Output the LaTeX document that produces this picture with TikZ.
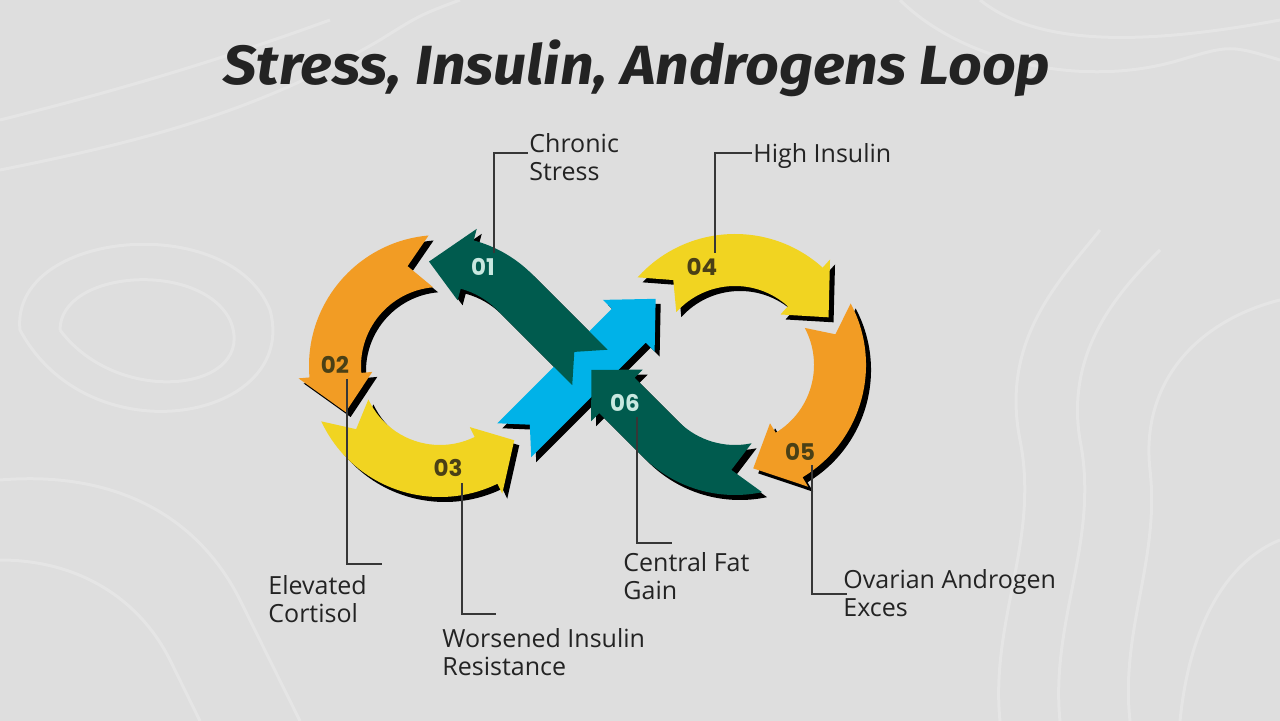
\documentclass[tikz,border=0pt]{standalone}
\usepackage{fontspec}
\newfontfamily\titlefont{Fira Sans}[FakeStretch=1.07]
\newfontfamily\labelfont{Open Sans}
\newfontfamily\numfont{Poppins}
\definecolor{bgc}{RGB}{222,222,222}
\definecolor{orangec}{RGB}{242,156,36}
\definecolor{yellowc}{RGB}{241,212,33}
\definecolor{greenc}{RGB}{0,91,78}
\definecolor{bluec}{RGB}{0,178,232}
\definecolor{numdark}{RGB}{74,64,22}
\definecolor{numlight}{RGB}{200,232,224}
\definecolor{textc}{RGB}{35,35,35}
\definecolor{linec}{RGB}{55,55,55}
\newcommand{\arcarrow}[4]{(#1:131) arc[start angle=#1, end angle=#2, radius=131] -- (#2:142) -- (#3:105) -- (#2:68) -- (#2:79) arc[start angle=#2, end angle=#1, radius=79] -- (#4:105) -- cycle}
\newcommand{\greenA}{(-75:130) arc[start angle=-75,end angle=-45,radius=130] -- (167.58,-16.26) -- (134.3,-14.1) -- (132.23,19.09) -- (-45:80) arc[start angle=-45,end angle=-75,radius=80] -- (-75:68) -- (-96:105) -- (-75:142) -- cycle}
\newcommand{\greenB}{(78:130) arc[start angle=78,end angle=135,radius=130] -- (-135.76,48.08) -- (-143.9,56.22) -- (-143.55,4.95) -- (-92.28,4.6) -- (-100.41,12.73) -- (135:80) arc[start angle=135,end angle=78,radius=80] -- (92:105) -- cycle}
\newcommand{\blueA}{(497.28,423.28) -- (611.83,308.73) -- (602.99,299.89) -- (655.67,298.83) -- (654.61,351.51) -- (645.77,342.67) -- (531.22,457.22) -- (529.81,424.69) -- cycle}
\tikzset{
  shadowf/.style={fill=black, shift={(5,5)}},
  lead/.style={draw=linec, line width=0.75pt},
  numdk/.style={font=\numfont\bfseries\fontsize{11.5}{13}\selectfont, text=numdark, inner sep=0},
  numlt/.style={font=\numfont\bfseries\fontsize{11.5}{13}\selectfont, text=numlight, inner sep=0},
  labtxt/.style={font=\labelfont\fontsize{12.5}{14}\selectfont, text=textc, align=left, anchor=north west, inner sep=0},
  texture/.style={draw=white, opacity=0.22, line width=1.5pt}
}
\begin{document}
\begin{tikzpicture}[x=0.5pt,y=-0.5pt]
\useasboundingbox (0,0) rectangle (1280,721);
\fill[bgc] (0,0) rectangle (1280,721);
% background texture
\draw[texture] (0,120) .. controls (120,90) and (220,60) .. (330,20);
\draw[texture] (0,170) .. controls (150,140) and (260,110) .. (380,40) .. controls (420,15) .. (460,0);
\draw[texture] (60,330) .. controls (60,270) and (200,260) .. (230,320) .. controls (260,390) and (120,410) .. (60,330);
\draw[texture] (20,330) .. controls (10,230) and (230,210) .. (270,310) .. controls (300,420) and (90,460) .. (20,330);
\draw[texture] (0,480) .. controls (120,470) and (200,520) .. (240,600) .. controls (270,660) .. (300,721);
\draw[texture] (0,560) .. controls (80,560) and (140,600) .. (170,660) .. controls (185,690) .. (200,721);
\draw[texture] (1000,721) .. controls (990,620) and (1040,540) .. (1020,440) .. controls (1000,340) and (1060,280) .. (1100,230);
\draw[texture] (1060,721) .. controls (1050,620) and (1100,540) .. (1080,440) .. controls (1065,350) and (1120,290) .. (1160,250);
\draw[texture] (1130,721) .. controls (1120,630) and (1160,560) .. (1150,470) .. controls (1140,380) and (1200,320) .. (1280,300);
\draw[texture] (900,0) .. controls (960,60) and (1080,90) .. (1180,60) .. controls (1230,45) .. (1280,60);
\draw[texture] (980,0) .. controls (1030,40) and (1120,50) .. (1280,20);
\draw[texture] (1180,721) .. controls (1190,620) and (1230,560) .. (1280,540);
% title
\node[font=\titlefont\bfseries\itshape\fontsize{27.6}{30}\selectfont, text=textc, anchor=base, inner sep=0] (title) at (637,85) {Stress, Insulin, Androgens Loop};
% left loop arrows
\begin{scope}[shift={(440,366)}]
  \fill[shadowf] \arcarrow{-95}{-185}{-206}{-108};
  \fill[shadowf] \arcarrow{-205}{-296}{-315}{-217};
  \fill[shadowf] \greenA;
  \fill[orangec] \arcarrow{-95}{-185}{-206}{-108};
  \fill[yellowc] \arcarrow{-205}{-296}{-315}{-217};
\end{scope}
% right loop arrows
\begin{scope}[shift={(735,365)}]
  \fill[shadowf] \arcarrow{-138}{-48}{-27}{-126};
  \fill[shadowf] \arcarrow{-28}{59}{80}{-17};
  \fill[yellowc] \arcarrow{-138}{-48}{-27}{-126};
  \fill[orangec] \arcarrow{-28}{59}{80}{-17};
\end{scope}
% blue crossing arrow
\fill[shadowf] \blueA;
\fill[bluec] \blueA;
% green arrows
\begin{scope}[shift={(440,366)}]
  \fill[greenc] \greenA;
\end{scope}
\begin{scope}[shift={(735,365)}]
  \fill[shadowf] \greenB;
  \fill[greenc] \greenB;
\end{scope}
% numbers
\node[numlt] (n01) at (483,267) {01};
\node[numdk] (n02) at (335,365) {02};
\node[numdk] (n03) at (448,468) {03};
\node[numdk] (n04) at (702,267) {04};
\node[numdk] (n05) at (800,452) {05};
\node[numlt] (n06) at (625,403) {06};
% leader coordinates
\coordinate (s01) at (494,253); \coordinate (e01) at (528,153);
\coordinate (s04) at (715,253); \coordinate (e04) at (752,153);
\coordinate (s02) at (347,379); \coordinate (e02) at (382,564);
\coordinate (s03) at (462,483); \coordinate (e03) at (496,614);
\coordinate (s06) at (637,417); \coordinate (e06) at (672,543);
\coordinate (s05) at (812,465); \coordinate (e05) at (847,594);
\draw[lead] (s01) |- (e01);
\draw[lead] (s04) |- (e04);
\draw[lead] (s02) |- (e02);
\draw[lead] (s03) |- (e03);
\draw[lead] (s06) |- (e06);
\draw[lead] (s05) |- (e05);
% labels
\node[labtxt] (l01) at (529,133) {Chronic\\Stress};
\node[labtxt] (l04) at (753,143) {High Insulin};
\node[labtxt] (l02) at (268,575) {Elevated\\Cortisol};
\node[labtxt] (l03) at (442,628) {Worsened Insulin\\Resistance};
\node[labtxt] (l06) at (623,552) {Central Fat\\Gain};
\node[labtxt] (l05) at (843,569) {Ovarian Androgen\\Exces};
\end{tikzpicture}
\end{document}
